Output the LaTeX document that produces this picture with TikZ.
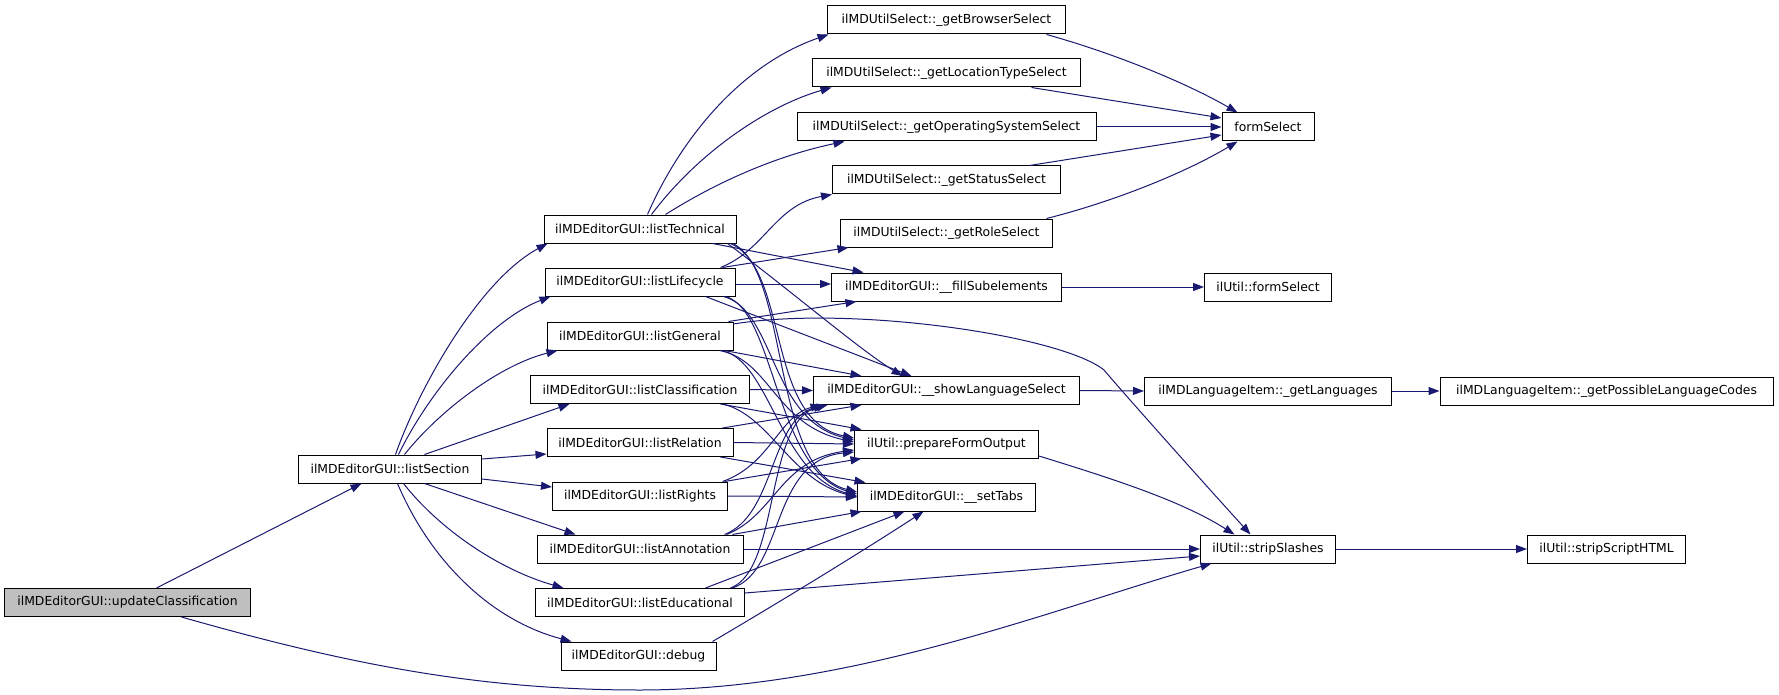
\documentclass[tikz,border=0pt]{standalone}
\usepackage{fontspec}
\setmainfont{DejaVu Sans}
\usetikzlibrary{arrows.meta}
\definecolor{edgeblue}{HTML}{191970}
\definecolor{rootgray}{HTML}{BFBFBF}
\begin{document}
\begin{tikzpicture}[x=1pt,y=-1pt,
  fn/.style={draw=black, line width=1pt, fill=white, minimum height=28pt, inner sep=0pt,
    font=\fontsize{12.4}{14}\selectfont},
  root/.style={fn, fill=rootgray},
  call/.style={draw=edgeblue, line width=1pt, -{Triangle[length=11pt,width=8pt]}, fill=none}]
\useasboundingbox (0,0) rectangle (1779,695);
% nodes
\node[root, minimum width=246pt] (uc) at (127.5,602.5) {ilMDEditorGUI::updateClassification};
\node[fn, minimum width=183pt] (ls) at (390,469) {ilMDEditorGUI::listSection};
\node[fn, minimum width=192pt] (lt) at (640,229) {ilMDEditorGUI::listTechnical};
\node[fn, minimum width=190pt] (ll) at (640,282) {ilMDEditorGUI::listLifecycle};
\node[fn, minimum width=186pt] (lg) at (640,336) {ilMDEditorGUI::listGeneral};
\node[fn, minimum width=219pt] (lc) at (640,389.5) {ilMDEditorGUI::listClassification};
\node[fn, minimum width=186pt] (lr) at (640,442.5) {ilMDEditorGUI::listRelation};
\node[fn, minimum width=175pt] (lri) at (640,496) {ilMDEditorGUI::listRights};
\node[fn, minimum width=206pt] (la) at (640,549) {ilMDEditorGUI::listAnnotation};
\node[fn, minimum width=209pt] (le) at (640,602.5) {ilMDEditorGUI::listEducational};
\node[fn, minimum width=155pt] (dbg) at (638.5,656) {ilMDEditorGUI::debug};
\node[fn, minimum width=238pt] (gb) at (946.5,20) {ilMDUtilSelect::\_getBrowserSelect};
\node[fn, minimum width=268pt] (glt) at (946.5,73) {ilMDUtilSelect::\_getLocationTypeSelect};
\node[fn, minimum width=299pt] (gos) at (946.5,127) {ilMDUtilSelect::\_getOperatingSystemSelect};
\node[fn, minimum width=228pt] (gs) at (946.5,180) {ilMDUtilSelect::\_getStatusSelect};
\node[fn, minimum width=212pt] (gr) at (946.5,233) {ilMDUtilSelect::\_getRoleSelect};
\node[fn, minimum width=230pt] (fs) at (946.5,287) {ilMDEditorGUI::\_\_fillSubelements};
\node[fn, minimum width=266pt] (sls) at (946.5,390.5) {ilMDEditorGUI::\_\_showLanguageSelect};
\node[fn, minimum width=184pt] (pfo) at (946.5,444) {ilUtil::prepareFormOutput};
\node[fn, minimum width=178pt] (st) at (946.5,497) {ilMDEditorGUI::\_\_setTabs};
\node[fn, minimum width=92pt] (fsel) at (1268,127) {formSelect};
\node[fn, minimum width=127pt] (ufs) at (1268,287) {ilUtil::formSelect};
\node[fn, minimum width=247pt] (gl) at (1268,391) {ilMDLanguageItem::\_getLanguages};
\node[fn, minimum width=135pt] (ssl) at (1268,549) {ilUtil::stripSlashes};
\node[fn, minimum width=333pt] (gplc) at (1606.5,391) {ilMDLanguageItem::\_getPossibleLanguageCodes};
\node[fn, minimum width=158pt] (ssh) at (1606.5,549) {ilUtil::stripScriptHTML};
% edges from root
\draw[call] ([xshift=152.5pt]uc.north west) -- ([xshift=63.5pt]ls.south west);
\draw[call] ([xshift=177.5pt]uc.south west) .. controls (350,665) and (480,690) .. (640,690)
  .. controls (850,690) and (1050,610) .. ([xshift=11.5pt]ssl.south west);
% listSection
\draw[call] ([xshift=97.5pt]ls.north west) .. controls (420,385) and (480,280) .. ([xshift=4pt]lt.south west);
\draw[call] ([xshift=100.5pt]ls.north west) .. controls (430,390) and (490,320) .. ([xshift=6pt]ll.south west);
\draw[call] ([xshift=106.5pt]ls.north west) .. controls (440,410) and (500,365) .. ([xshift=11pt]lg.south west);
\draw[call] ([xshift=126.5pt]ls.north west) -- ([xshift=39.5pt]lc.south west);
\draw[call] ([yshift=10pt]ls.east) -- ([yshift=-11.5pt]lr.west);
\draw[call] ([yshift=-10pt]ls.east) -- ([yshift=9pt]lri.west);
\draw[call] ([xshift=126.5pt]ls.south west) -- ([xshift=39pt]la.north west);
\draw[call] ([xshift=105.5pt]ls.south west) .. controls (440,530) and (500,570) .. ([xshift=28.5pt]le.north west);
\draw[call] ([xshift=99.5pt]ls.south west) .. controls (430,560) and (490,620) .. ([xshift=11pt]dbg.north west);
% listTechnical
\draw[call] ([xshift=104pt]lt.north west) .. controls (680,140) and (740,65) .. ([xshift=1.5pt]gb.south west);
\draw[call] ([xshift=108pt]lt.north west) .. controls (700,150) and (770,105) .. ([xshift=19.5pt]glt.south west);
\draw[call] ([xshift=122pt]lt.north west) .. controls (720,180) and (780,155) .. ([xshift=48pt]gos.south west);
\draw[call] ([xshift=169pt]lt.south west) -- ([xshift=32.5pt]fs.north west);
\draw[call] ([xshift=184pt]lt.south west) .. controls (790,290) and (860,350) .. ([xshift=89.5pt]sls.north west);
\draw[call] ([xshift=187pt]lt.south west) .. controls (790,270) and (765,420) .. ([yshift=6pt]pfo.west);
\draw[call] ([xshift=189pt]lt.south west) .. controls (790,270) and (770,470) .. ([yshift=5pt]st.west);
% listLifecycle
\draw[call] ([xshift=176pt]ll.north west) .. controls (765,250) and (775,205) .. (gs.south west);
\draw[call] ([xshift=178pt]ll.north west) -- ([xshift=8.5pt]gr.south west);
\draw[call] ([yshift=-2pt]ll.east) -- ([yshift=3pt]fs.west);
\draw[call] ([xshift=161pt]ll.south west) -- ([xshift=98.5pt]sls.north west);
\draw[call] ([xshift=179pt]ll.south west) .. controls (775,310) and (770,420) .. ([yshift=4pt]pfo.west);
\draw[call] ([xshift=181pt]ll.south west) .. controls (775,310) and (775,470) .. ([yshift=3pt]st.west);
% listGeneral
\draw[call] ([xshift=182pt]lg.north west) -- ([xshift=25.5pt]fs.south west);
\draw[call] ([yshift=12pt]lg.east) .. controls (850,305) and (1060,335) .. (1104,370)
  .. controls (1125,395) and (1210,490) .. ([xshift=50.5pt]ssl.north west);
\draw[call] ([xshift=178pt]lg.south west) -- ([xshift=48.5pt]sls.north west);
\draw[call] ([xshift=173pt]lg.south west) .. controls (770,360) and (775,425) .. ([yshift=2pt]pfo.west);
\draw[call] ([xshift=175pt]lg.south west) .. controls (770,360) and (780,475) .. ([yshift=1pt]st.west);
% listClassification
\draw[call] (lc.east) -- (sls.west);
\draw[call] ([xshift=190.5pt]lc.south west) -- ([xshift=7.5pt]pfo.north west);
\draw[call] ([xshift=192.5pt]lc.south west) .. controls (770,415) and (790,480) .. (st.west);
% listRelation
\draw[call] ([xshift=176pt]lr.north west) -- ([xshift=48.5pt]sls.south west);
\draw[call] (lr.east) -- (pfo.west);
\draw[call] ([xshift=174pt]lr.south west) -- ([xshift=8.5pt]st.north west);
% listRights
\draw[call] ([xshift=170.5pt]lri.north west) .. controls (770,465) and (780,415) .. ([xshift=8.5pt]sls.south west);
\draw[call] ([xshift=172.5pt]lri.north west) -- ([xshift=7.5pt]pfo.south west);
\draw[call] (lri.east) -- (st.west);
% listAnnotation
\draw[call] ([xshift=188pt]la.north west) .. controls (775,515) and (770,420) .. ([xshift=11.5pt]sls.south west);
\draw[call] ([xshift=190pt]la.north west) .. controls (775,515) and (780,460) .. ([yshift=-6pt]pfo.west);
\draw[call] ([xshift=196pt]la.north west) -- ([xshift=4.5pt]st.south west);
\draw[call] (la.east) -- (ssl.west);
% listEducational
\draw[call] ([xshift=195.5pt]le.north west) .. controls (780,570) and (765,420) .. ([xshift=14.5pt]sls.south west);
\draw[call] ([xshift=197.5pt]le.north west) .. controls (785,570) and (770,460) .. ([yshift=-8pt]pfo.west);
\draw[call] ([xshift=170.5pt]le.north west) -- ([xshift=47.5pt]st.south west);
\draw[call] ([yshift=9.5pt]le.east) -- ([yshift=-7pt]ssl.west);
% debug
\draw[call] ([xshift=152pt]dbg.north west) .. controls (800,590) and (880,540) .. ([xshift=66.5pt]st.south west);
% selects to formSelect
\draw[call] ([xshift=219.5pt]gb.south west) .. controls (1120,55) and (1190,85) .. ([xshift=16pt]fsel.north west);
\draw[call] ([xshift=219.5pt]glt.south west) -- ([yshift=9pt]fsel.west);
\draw[call] (gos.east) -- (fsel.west);
\draw[call] ([xshift=197.5pt]gs.north west) -- ([yshift=-8pt]fsel.west);
\draw[call] ([xshift=206.5pt]gr.north west) .. controls (1120,200) and (1190,170) .. ([xshift=16pt]fsel.south west);
% others
\draw[call] (fs.east) -- (ufs.west);
\draw[call] (sls.east) -- (gl.west);
\draw[call] (gl.east) -- (gplc.west);
\draw[call] ([yshift=-12pt]pfo.east) .. controls (1110,478) and (1180,500) .. ([xshift=34.5pt]ssl.north west);
\draw[call] (ssl.east) -- (ssh.west);
\end{tikzpicture}
\end{document}
